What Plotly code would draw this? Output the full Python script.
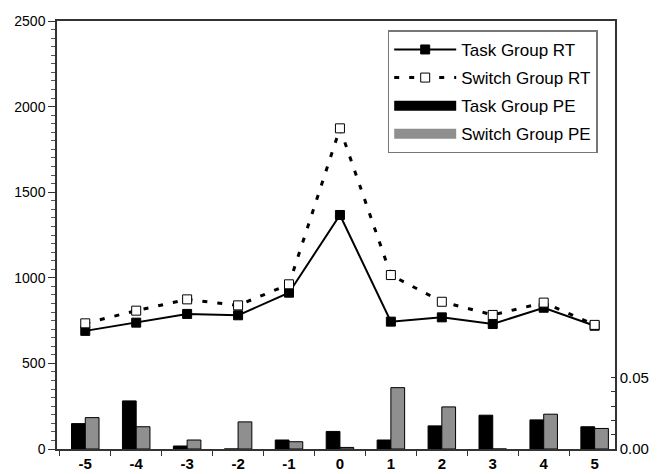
import plotly.graph_objects as go

positions = [-5, -4, -3, -2, -1, 0, 1, 2, 3, 4, 5]
tick_labels = ["-5", "-4", "-3", "-2", "-1", "0", "1", "2", "3", "4", "5"]

task_rt = [690, 738, 789, 781, 913, 1367, 744, 769, 730, 825, 720]
switch_rt = [734, 808, 874, 839, 962, 1873, 1016, 860, 783, 855, 725]

task_pe = [0.0178, 0.0337, 0.0021, 0.0, 0.0063, 0.0123, 0.0063, 0.0162, 0.0237, 0.0204, 0.0156]
switch_pe = [0.0220, 0.0156, 0.0063, 0.0190, 0.0051, 0.0011, 0.0430, 0.0295, 0.0, 0.0244, 0.0144]

FONT = "Liberation Sans, Arial, sans-serif"
GRAY = "#8f8f8f"

fig = go.Figure()

fig.add_trace(go.Bar(
    x=positions, y=task_pe, name="Task Group PE", yaxis="y2",
    marker=dict(color="black", line=dict(color="black", width=1)),
    showlegend=False,
))
fig.add_trace(go.Bar(
    x=positions, y=switch_pe, name="Switch Group PE", yaxis="y2",
    marker=dict(color=GRAY, line=dict(color="black", width=1)),
    showlegend=False,
))
fig.add_trace(go.Scatter(
    x=positions, y=task_rt, name="Task Group RT", mode="lines+markers",
    line=dict(color="black", width=2),
    marker=dict(symbol="square", size=9, color="black", line=dict(color="black", width=1)),
    legendrank=1, legendgroup="a",
))
fig.add_trace(go.Scatter(
    x=positions, y=switch_rt, name="Switch Group RT", mode="lines+markers",
    line=dict(color="black", width=3, dash="5px,10px"),
    marker=dict(symbol="square", size=9, color="white", line=dict(color="black", width=1)),
    legendrank=2, legendgroup="b",
))
# legend keys for the bar series (wide rectangles as in the original)
fig.add_trace(go.Scatter(
    x=[None], y=[None], name="Task Group PE", mode="lines",
    line=dict(color="black", width=11), legendrank=3, legendgroup="c",
))
fig.add_trace(go.Scatter(
    x=[None], y=[None], name="Switch Group PE", mode="lines",
    line=dict(color=GRAY, width=10), legendrank=4, legendgroup="d",
))

fig.update_layout(
    template="none",
    width=659, height=474,
    margin=dict(l=57, r=44, t=21, b=25, autoexpand=False),
    paper_bgcolor="white", plot_bgcolor="white",
    barmode="group", bargap=0.46, bargroupgap=0,
    font=dict(family=FONT, color="black"),
    showlegend=True,
    legend=dict(
        x=0.969, y=0.978, xanchor="right", yanchor="top",
        bordercolor="#777777", borderwidth=1.5, bgcolor="white",
        font=dict(size=17, family=FONT),
        tracegroupgap=3, itemwidth=62,
    ),
    xaxis=dict(
        range=[-5.555, 5.40], automargin=False,
        tickvals=positions, ticktext=tick_labels,
        ticks="", tickfont=dict(size=15, family=FONT, weight="bold"),
        showline=True, linecolor="#333333", linewidth=1.5, mirror=True,
        showgrid=False, zeroline=False,
        minor=dict(ticks="outside", tick0=0.5, dtick=1, ticklen=5, tickcolor="#333333", showgrid=False),
    ),
    yaxis=dict(
        range=[0, 2500], tickvals=[0, 500, 1000, 1500, 2000, 2500], automargin=False,
        ticks="outside", ticklen=7, tickcolor="#333333",
        tickfont=dict(size=14, family=FONT),
        showline=True, linecolor="#333333", linewidth=1.5,
        showgrid=False, zeroline=False,
        minor=dict(ticks="outside", dtick=50, ticklen=4, tickcolor="#555555", showgrid=False),
    ),
    yaxis2=dict(
        range=[0, 0.3], overlaying="y", side="right", automargin=False,
        tickvals=[0, 0.01, 0.02, 0.03, 0.04, 0.05],
        ticktext=["0.00", "", "", "", "", "0.05"],
        ticks="inside", ticklen=4, tickcolor="#333333",
        tickfont=dict(size=15, family=FONT),
        showline=True, linecolor="#333333", linewidth=1.5,
        showgrid=False, zeroline=False,
    ),
)

fig.write_html("out.html", config={"displayModeBar": False},
               post_script="document.body.style.margin='0';")
